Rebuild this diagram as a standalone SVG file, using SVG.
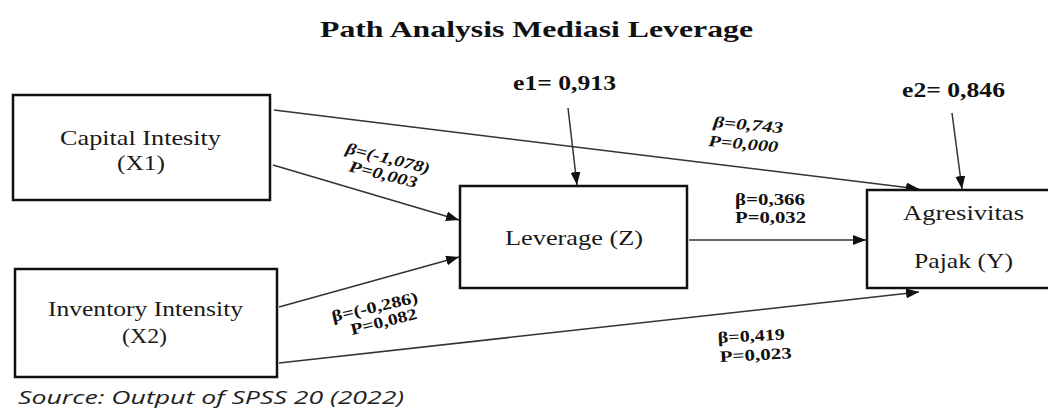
<svg xmlns="http://www.w3.org/2000/svg" width="1048" height="413" viewBox="0 0 1048 413">
<style>
.box{fill:#fff;stroke:#111;stroke-width:2.5}
.lbl{font-family:"Liberation Serif","Times New Roman",serif;font-size:21px;fill:#1a1a1a}
.ttl{font-family:"Liberation Serif","Times New Roman",serif;font-size:24px;font-weight:bold;fill:#111}
.err{font-family:"Liberation Serif","Times New Roman",serif;font-size:20px;font-weight:bold;fill:#111}
.coef{font-family:"Liberation Serif","Times New Roman",serif;font-size:16px;font-weight:bold;fill:#111}
.it{font-style:italic}
.src{font-family:"Open Sans","Noto Sans",sans-serif;font-size:19px;font-style:italic;fill:#222}
.con{fill:none;stroke:#333;stroke-width:1.5}
</style>
<defs>
<marker id="ah" markerUnits="userSpaceOnUse" markerWidth="14" markerHeight="10" refX="13" refY="5" orient="auto">
<path d="M0,0 L13,5 L0,10 z" fill="#111"/>
</marker>
</defs>
<rect width="1048" height="413" fill="#fff"/>
<text class="ttl" x="320" y="37" textLength="433" lengthAdjust="spacingAndGlyphs">Path Analysis Mediasi Leverage</text>

<g id="connectors">
<path class="con" d="M274,110 L919,189" marker-end="url(#ah)"/>
<path class="con" d="M273,165 L459,220" marker-end="url(#ah)"/>
<path class="con" d="M279,307 L459,257" marker-end="url(#ah)"/>
<path class="con" d="M279,363 L919,292" marker-end="url(#ah)"/>
<path class="con" d="M689,240 L866,240" marker-end="url(#ah)"/>
<path class="con" d="M568,108 L577,185" marker-end="url(#ah)"/>
<path class="con" d="M952,113 L962,189" marker-end="url(#ah)"/>
<text class="coef it" x="345" y="153" textLength="86" lengthAdjust="spacingAndGlyphs" transform="rotate(14 345 153)">β=(-1,078)</text>
<text class="coef it" x="348" y="171" textLength="70" lengthAdjust="spacingAndGlyphs" transform="rotate(14 348 171)">P=0,003</text>
<text class="coef it" x="713" y="127" textLength="70" lengthAdjust="spacingAndGlyphs" transform="rotate(5 713 127)">β=0,743</text>
<text class="coef it" x="708" y="146" textLength="70" lengthAdjust="spacingAndGlyphs" transform="rotate(5 708 146)">P=0,000</text>
<text class="coef" x="735" y="205" textLength="70" lengthAdjust="spacingAndGlyphs">β=0,366</text>
<text class="coef" x="735" y="223" textLength="71" lengthAdjust="spacingAndGlyphs">P=0,032</text>
<text class="coef" x="333" y="322" textLength="88" lengthAdjust="spacingAndGlyphs" transform="rotate(-13 333 322)">β=(-0,286)</text>
<text class="coef" x="352" y="335" textLength="68" lengthAdjust="spacingAndGlyphs" transform="rotate(-14 352 335)">P=0,082</text>
<text class="coef" x="718" y="343" textLength="67" lengthAdjust="spacingAndGlyphs" transform="rotate(-3 718 343)">β=0,419</text>
<text class="coef" x="720" y="362" textLength="72" lengthAdjust="spacingAndGlyphs" transform="rotate(-3 720 362)">P=0,023</text>
</g>

<g id="e1">
<text class="err" x="513" y="90" textLength="103" lengthAdjust="spacingAndGlyphs">e1= 0,913</text>
</g>
<g id="e2">
<text class="err" x="902" y="97" textLength="103" lengthAdjust="spacingAndGlyphs">e2= 0,846</text>
</g>

<g id="X1">
<rect class="box" x="13" y="95" width="257" height="105"/>
<text class="lbl" x="60" y="145" textLength="161" lengthAdjust="spacingAndGlyphs">Capital Intesity</text>
<text class="lbl" x="117" y="170" textLength="48" lengthAdjust="spacingAndGlyphs">(X1)</text>
</g>

<g id="X2">
<rect class="box" x="15" y="269" width="262" height="108"/>
<text class="lbl" x="48" y="316" textLength="195" lengthAdjust="spacingAndGlyphs">Inventory Intensity</text>
<text class="lbl" x="122" y="343" textLength="45" lengthAdjust="spacingAndGlyphs">(X2)</text>
</g>

<g id="Z">
<rect class="box" x="460" y="186" width="227" height="102"/>
<text class="lbl" x="505" y="245" textLength="138" lengthAdjust="spacingAndGlyphs">Leverage (Z)</text>
</g>

<g id="Y">
<rect class="box" x="867" y="190" width="190" height="98"/>
<text class="lbl" x="903" y="220" textLength="121" lengthAdjust="spacingAndGlyphs">Agresivitas</text>
<text class="lbl" x="914" y="268" textLength="99" lengthAdjust="spacingAndGlyphs">Pajak (Y)</text>
</g>

<text class="src" x="18" y="404" textLength="386" lengthAdjust="spacingAndGlyphs">Source: Output of SPSS 20 (2022)</text>
</svg>
